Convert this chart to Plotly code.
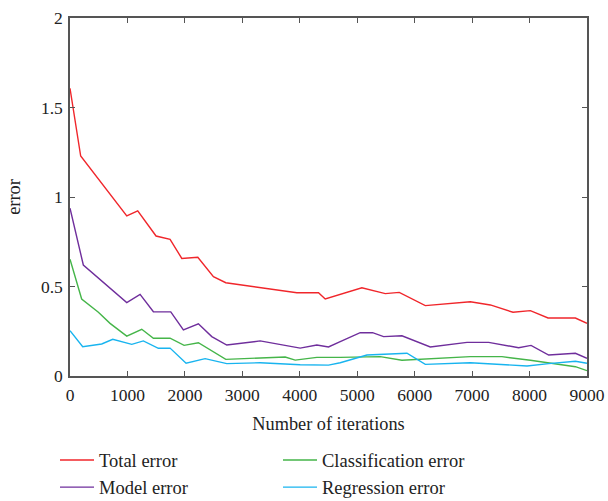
import plotly.graph_objects as go

total_x = [0, 186, 988, 1179, 1498, 1742, 1946, 2225, 2497, 2712, 3949, 4326, 4443, 4704, 5081, 5488, 5732, 6185, 6969, 7317, 7712, 8014, 8322, 8798, 9000]
total_y = [1.607, 1.229, 0.894, 0.923, 0.782, 0.763, 0.657, 0.663, 0.555, 0.521, 0.465, 0.465, 0.430, 0.456, 0.493, 0.460, 0.467, 0.393, 0.415, 0.397, 0.356, 0.365, 0.324, 0.324, 0.294]

model_x = [0, 232, 988, 1220, 1452, 1754, 1974, 2235, 2468, 2729, 3310, 4007, 4297, 4500, 4704, 5052, 5267, 5459, 5778, 6272, 6911, 7288, 7810, 8026, 8333, 8798, 9000]
model_y = [0.937, 0.620, 0.410, 0.456, 0.359, 0.358, 0.257, 0.292, 0.220, 0.173, 0.196, 0.156, 0.173, 0.162, 0.192, 0.242, 0.242, 0.220, 0.225, 0.162, 0.188, 0.188, 0.158, 0.171, 0.117, 0.127, 0.099]

class_x = [0, 203, 494, 697, 988, 1249, 1452, 1742, 1986, 2235, 2712, 3746, 3920, 4297, 4704, 5401, 5778, 6969, 7520, 8014, 8798, 9000]
class_y = [0.652, 0.430, 0.356, 0.294, 0.223, 0.261, 0.211, 0.211, 0.171, 0.186, 0.093, 0.106, 0.089, 0.104, 0.104, 0.108, 0.088, 0.108, 0.108, 0.088, 0.052, 0.030]

reg_x = [0, 221, 552, 744, 1075, 1277, 1538, 1742, 2021, 2352, 2729, 3310, 4007, 4500, 4704, 5169, 5866, 6185, 6969, 7433, 7956, 8333, 8798, 9000]
reg_y = [0.253, 0.164, 0.179, 0.205, 0.177, 0.196, 0.155, 0.156, 0.071, 0.097, 0.069, 0.074, 0.063, 0.061, 0.074, 0.117, 0.127, 0.065, 0.074, 0.067, 0.056, 0.069, 0.082, 0.071]

series = [
    ("Total error", total_x, total_y, "#f0262b"),
    ("Classification error", class_x, class_y, "#45b549"),
    ("Model error", model_x, model_y, "#6f2e9c"),
    ("Regression error", reg_x, reg_y, "#18b4ef"),
]

x_ticks = [0, 1000, 2000, 3000, 4000, 5000, 6000, 7000, 8000, 9000]
y_ticks = [0, 0.5, 1, 1.5, 2]
y_tick_text = ["0", "0.5", "1", "1.5", "2"]

fig = go.Figure()
for name, xs, ys, col in series:
    fig.add_trace(go.Scatter(x=xs, y=ys, mode="lines", name=name,
                             line=dict(color=col, width=1.4)))

font_family = "Liberation Serif"
fig.update_layout(
    width=608, height=501,
    margin=dict(l=70, r=21, t=18, b=125, autoexpand=False),
    paper_bgcolor="white", plot_bgcolor="white",
    font=dict(family=font_family, size=17, color="#222"),
    showlegend=True,
    legend=dict(orientation="h", x=-0.029, xanchor="left", y=-0.183, yanchor="top",
                entrywidth=174, entrywidthmode="pixels",
                font=dict(family=font_family, size=18.5, color="#222"),
                tracegroupgap=0, itemwidth=34),
)
fig.update_xaxes(range=[0, 9000], tickvals=x_ticks, ticks="inside", ticklen=5,
                 tickcolor="#555", showline=True, linecolor="#555", linewidth=1.5,
                 mirror="ticks", showgrid=False, zeroline=False, automargin=False,
                 ticklabelstandoff=2,
                 title=dict(text="Number of iterations", standoff=13,
                            font=dict(size=18.3)),
                 tickfont=dict(size=17.5))
fig.update_yaxes(range=[0, 2], tickvals=y_ticks, ticktext=y_tick_text, ticks="inside",
                 ticklen=5, tickcolor="#555", showline=True, linecolor="#555",
                 linewidth=1.5, mirror="ticks", showgrid=False, zeroline=False,
                 automargin=False, ticklabelstandoff=2,
                 title=dict(text="error", standoff=15, font=dict(size=18.3)),
                 tickfont=dict(size=17.5))

# remove the browser's default page margin so the 608x501 figure fills the window
fig.write_html("out.html", config={"displayModeBar": False},
               post_script="document.body.style.margin='0';document.body.style.overflow='hidden';")
